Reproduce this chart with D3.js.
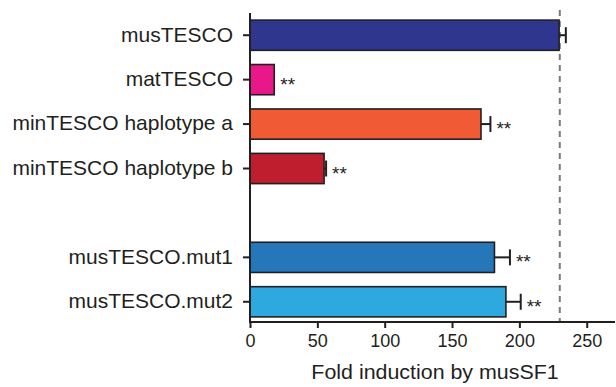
<!DOCTYPE html>
<html>
<head>
<meta charset="utf-8">
<script src="https://cdn.jsdelivr.net/npm/d3@7/dist/d3.min.js"></script>
<style>
  html, body { margin: 0; padding: 0; background: #fff; }
  svg { display: block; }
  text { font-family: "Liberation Sans", Arial, Helvetica, sans-serif; fill: #231F20; }
</style>
</head>
<body>
<svg id="chart" width="616" height="387"></svg>
<script>
// ---- data ----
const slots = ["musTESCO", "matTESCO", "minTESCO haplotype a", "minTESCO haplotype b", "gap", "musTESCO.mut1", "musTESCO.mut2"];
const categories = ["musTESCO", "matTESCO", "minTESCO haplotype a", "minTESCO haplotype b", "musTESCO.mut1", "musTESCO.mut2"];
const values = [229.5, 18, 171.5, 55, 181.5, 190];
const errors = [5, 0, 7, 1.5, 11.5, 11];
const significance = ["", "**", "**", "**", "**", "**"];
const colors = ["#2E368E", "#E8178A", "#F05A35", "#BE1E2D", "#2577BA", "#2EA9DF"];
const xTicks = [0, 50, 100, 150, 200, 250];
const referenceValue = 230;
const xTitle = "Fold induction by musSF1";

const svg = d3.select("#chart");
const ink = "#231F20";
const labelStretch = 1.05;
const titleStretch = 1.07;

const x = d3.scaleLinear().domain([0, 271]).range([250, 615]);
const y = d3.scaleBand().domain(slots).range([13, 324]).paddingInner(0.32).paddingOuter(0.16);

// reference dashed line
svg.append("line")
  .attr("x1", x(referenceValue)).attr("x2", x(referenceValue))
  .attr("y1", 10).attr("y2", 322)
  .attr("stroke", "#7a7a7a").attr("stroke-width", 2)
  .attr("stroke-dasharray", "6,5");

const data = categories.map((c, i) => ({ c, v: values[i], e: errors[i], s: significance[i], col: colors[i] }));

// bars
svg.selectAll("rect.bar").data(data).enter().append("rect")
  .attr("class", "bar")
  .attr("x", x(0))
  .attr("y", d => y(d.c))
  .attr("width", d => x(d.v) - x(0))
  .attr("height", y.bandwidth())
  .attr("fill", d => d.col)
  .attr("stroke", ink).attr("stroke-width", 1.6);

// error bars
const eb = svg.selectAll("g.err").data(data.filter(d => d.e > 0)).enter().append("g").attr("class", "err");
eb.append("line")
  .attr("x1", d => x(d.v)).attr("x2", d => x(d.v + d.e))
  .attr("y1", d => y(d.c) + y.bandwidth() / 2).attr("y2", d => y(d.c) + y.bandwidth() / 2)
  .attr("stroke", ink).attr("stroke-width", 2);
eb.append("line")
  .attr("x1", d => x(d.v + d.e)).attr("x2", d => x(d.v + d.e))
  .attr("y1", d => y(d.c) + y.bandwidth() / 2 - 8).attr("y2", d => y(d.c) + y.bandwidth() / 2 + 8)
  .attr("stroke", ink).attr("stroke-width", 2);

// significance stars
svg.selectAll("text.sig").data(data.filter(d => d.s)).enter().append("text")
  .attr("class", "sig")
  .attr("x", d => x(d.v + d.e) + 6)
  .attr("y", d => y(d.c) + y.bandwidth() / 2 + 11)
  .attr("font-size", 19)
  .text(d => d.s);

// y axis
const yAxis = svg.append("g").attr("transform", `translate(${x(0)},0)`)
  .call(d3.axisLeft(y).tickValues(categories).tickSize(7).tickPadding(4).tickSizeOuter(0));
yAxis.select(".domain").attr("stroke", ink).attr("stroke-width", 2)
  .attr("d", `M0,13V322`);
yAxis.selectAll(".tick line").attr("stroke", ink).attr("stroke-width", 2);
yAxis.selectAll(".tick text")
  .attr("font-size", 20).attr("fill", ink)
  .attr("x", -17 / labelStretch)
  .attr("transform", `scale(${labelStretch},1)`);

// x axis
const xAxis = svg.append("g").attr("transform", `translate(0,322)`)
  .call(d3.axisBottom(x).tickValues(xTicks).tickSize(6).tickPadding(6).tickSizeOuter(0));
xAxis.select(".domain").attr("stroke", ink).attr("stroke-width", 2)
  .attr("d", `M${x(0) - 1},0H615`);
xAxis.selectAll(".tick line").attr("stroke", ink).attr("stroke-width", 2);
xAxis.selectAll(".tick text").attr("font-size", 18).attr("fill", ink);

// x title
svg.append("text")
  .attr("transform", `translate(435,379) scale(${titleStretch},1)`)
  .attr("text-anchor", "middle")
  .attr("font-size", 20)
  .text(xTitle);
</script>
</body>
</html>
